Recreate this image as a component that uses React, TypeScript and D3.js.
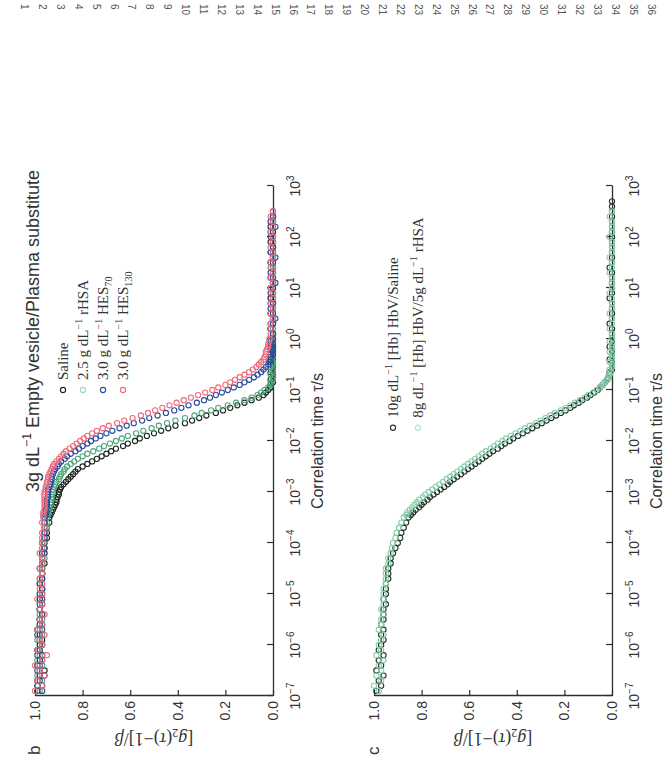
import React, { useEffect, useRef } from "react";
import * as d3 from "d3";

// ---------- data (log10 of correlation time, shared grid) ----------
const LOG_TAU = [
  -6.9, -6.8, -6.7, -6.6, -6.5, -6.4, -6.3, -6.2, -6.1, -6.0,
  -5.9, -5.8, -5.7, -5.6, -5.5, -5.4, -5.3, -5.2, -5.1, -5.0,
  -4.9, -4.8, -4.7, -4.6, -4.5, -4.4, -4.3, -4.2, -4.1, -4.0,
  -3.9, -3.8, -3.7, -3.6,
  -3.5, -3.45, -3.4, -3.35, -3.3, -3.25, -3.2, -3.15, -3.1, -3.05,
  -3.0, -2.95, -2.9, -2.85, -2.8, -2.75, -2.7, -2.65, -2.6, -2.55,
  -2.5, -2.45, -2.4, -2.35, -2.3, -2.25, -2.2, -2.15, -2.1, -2.05,
  -2.0, -1.95, -1.9, -1.85, -1.8, -1.75, -1.7, -1.65, -1.6, -1.55,
  -1.5, -1.45, -1.4, -1.35, -1.3, -1.25, -1.2, -1.15, -1.1, -1.05,
  -1.0, -0.95, -0.9, -0.85, -0.8, -0.75, -0.7, -0.65, -0.6, -0.55,
  -0.5, -0.45, -0.4, -0.35, -0.3, -0.25, -0.2, -0.15, -0.1, -0.05,
  0.0,
  0.1, 0.2, 0.3, 0.4, 0.5, 0.6, 0.7, 0.8, 0.9, 1.0,
  1.1, 1.2, 1.3, 1.4, 1.5, 1.6, 1.7, 1.8, 1.9, 2.0,
  2.1, 2.2, 2.3, 2.4, 2.5, 2.6, 2.7,
];

// Panel b
const B_SALINE = [
  0.99, 0.97, 0.99, 0.98, 0.96, 0.99, 0.98, 0.97, 0.99, 0.98,
  0.97, 0.98, 0.99, 0.97, 0.98, 0.97, 0.98, 0.97, 0.98, 0.97,
  0.97, 0.98, 0.97, 0.97, 0.97, 0.96, 0.97, 0.96, 0.96, 0.96,
  0.95, 0.95, 0.95, 0.94,
  0.94, 0.935, 0.93, 0.925, 0.92, 0.915, 0.91, 0.91, 0.905, 0.9,
  0.9, 0.895, 0.89, 0.88, 0.87, 0.86, 0.85, 0.84, 0.83, 0.82,
  0.8, 0.78, 0.76, 0.74, 0.72, 0.7, 0.68, 0.66, 0.63, 0.61,
  0.58, 0.56, 0.53, 0.5, 0.47, 0.44, 0.41, 0.37, 0.34, 0.31,
  0.28, 0.24, 0.21, 0.18, 0.15, 0.12, 0.09, 0.06, 0.04, 0.03,
  0.02, 0.01, 0.01, 0.0, 0.01, 0.0, 0.0, 0.01, 0.0, 0.0,
  0.0, 0.01, 0.0, 0.0, 0.01, 0.0, 0.0, 0.0, 0.01, 0.0,
  0.0,
  0.0, 0.01, 0.0, 0.0, 0.01, 0.0, 0.0, 0.01, 0.0, 0.0,
  0.0, 0.01, 0.0, 0.0, 0.01, 0.0, 0.0, 0.0, 0.01, 0.0,
  0.0, 0.01, 0.0, 0.0, null, null, null,
];
const B_RHSA = [
  0.98, 0.99, 0.97, 0.99, 0.98, 0.97, 0.99, 0.98, 0.98, 0.97,
  0.99, 0.97, 0.98, 0.98, 0.97, 0.98, 0.98, 0.97, 0.97, 0.98,
  0.97, 0.97, 0.98, 0.97, 0.97, 0.97, 0.96, 0.97, 0.96, 0.96,
  0.96, 0.96, 0.95, 0.95,
  0.95, 0.945, 0.945, 0.94, 0.94, 0.935, 0.935, 0.93, 0.93, 0.93,
  0.925, 0.925, 0.92, 0.915, 0.91, 0.9, 0.895, 0.89, 0.88, 0.875,
  0.865, 0.85, 0.835, 0.82, 0.8, 0.78, 0.755, 0.73, 0.71, 0.685,
  0.66, 0.635, 0.61, 0.575, 0.545, 0.51, 0.48, 0.445, 0.41, 0.37,
  0.33, 0.3, 0.26, 0.23, 0.19, 0.155, 0.12, 0.09, 0.065, 0.05,
  0.035, 0.02, 0.01, 0.01, 0.0, 0.0, 0.01, 0.0, 0.0, 0.01,
  0.0, 0.0, 0.01, 0.0, 0.0, 0.0, 0.01, 0.0, 0.0, 0.0,
  0.01,
  0.0, 0.0, 0.01, 0.0, 0.0, 0.0, 0.01, 0.0, 0.0, 0.01,
  0.0, 0.0, 0.0, 0.01, 0.0, 0.0, 0.01, 0.0, 0.0, 0.0,
  0.01, 0.0, 0.0, 0.0, null, null, null,
];
const B_HES70 = [
  0.97, 0.99, 0.98, 0.96, 0.99, 0.98, 0.97, 0.99, 0.98, 0.97,
  0.98, 0.99, 0.97, 0.98, 0.98, 0.97, 0.98, 0.98, 0.97, 0.98,
  0.97, 0.98, 0.97, 0.97, 0.98, 0.97, 0.97, 0.97, 0.96, 0.97,
  0.96, 0.96, 0.96, 0.96,
  0.96, 0.955, 0.955, 0.955, 0.95, 0.95, 0.95, 0.95, 0.945, 0.945,
  0.945, 0.945, 0.94, 0.935, 0.935, 0.93, 0.93, 0.925, 0.92, 0.915,
  0.905, 0.9, 0.89, 0.875, 0.865, 0.85, 0.83, 0.815, 0.8, 0.78,
  0.765, 0.745, 0.725, 0.7, 0.675, 0.645, 0.615, 0.585, 0.55, 0.52,
  0.485, 0.45, 0.415, 0.385, 0.355, 0.32, 0.29, 0.265, 0.24, 0.215,
  0.19, 0.165, 0.14, 0.12, 0.1, 0.08, 0.065, 0.05, 0.04, 0.03,
  0.02, 0.015, 0.01, 0.01, 0.0, 0.0, 0.01, 0.0, 0.0, 0.01,
  0.0,
  0.0, 0.01, 0.0, -0.01, 0.0, 0.01, 0.0, 0.0, 0.01, 0.0,
  -0.01, 0.0, 0.01, 0.0, 0.0, -0.01, 0.01, 0.0, 0.0, 0.01,
  0.0, -0.01, 0.01, 0.0, 0.0, null, null,
];
const B_HES130 = [
  1.0, 0.97, 0.99, 0.96, 0.98, 1.0, 0.97, 0.95, 0.99, 0.97,
  0.98, 0.96, 0.99, 0.97, 0.98, 0.96, 0.98, 0.97, 0.99, 0.97,
  0.98, 0.97, 0.98, 0.97, 0.98, 0.97, 0.97, 0.98, 0.97, 0.97,
  0.97, 0.97, 0.96, 0.97,
  0.965, 0.965, 0.965, 0.96, 0.96, 0.96, 0.96, 0.96, 0.96, 0.96,
  0.96, 0.955, 0.955, 0.95, 0.95, 0.945, 0.945, 0.94, 0.935, 0.93,
  0.925, 0.92, 0.91, 0.9, 0.89, 0.88, 0.87, 0.855, 0.84, 0.825,
  0.81, 0.795, 0.78, 0.76, 0.74, 0.715, 0.69, 0.655, 0.625, 0.59,
  0.555, 0.525, 0.495, 0.465, 0.435, 0.405, 0.375, 0.345, 0.315, 0.285,
  0.255, 0.23, 0.2, 0.18, 0.16, 0.14, 0.12, 0.1, 0.085, 0.07,
  0.06, 0.05, 0.04, 0.035, 0.03, 0.03, 0.025, 0.02, 0.02, 0.015,
  0.015,
  0.01, 0.01, 0.01, 0.0, 0.01, 0.0, 0.01, 0.0, 0.0, 0.01,
  0.0, 0.01, 0.0, 0.0, 0.01, 0.0, 0.0, 0.01, 0.0, 0.0,
  0.01, 0.0, 0.0, 0.01, 0.0, null, null,
];

// Panel c
const C_HBV_SALINE = [
  0.99, 0.97, 0.98, 0.96, 0.99, 0.97, 0.98, 0.96, 0.98, 0.97,
  0.96, 0.97, 0.96, 0.97, 0.96, 0.96, 0.96, 0.95, 0.96, 0.95,
  0.95, 0.95, 0.94, 0.94, 0.94, 0.93, 0.93, 0.92, 0.91, 0.9,
  0.89, 0.885, 0.875, 0.865,
  0.855, 0.845, 0.835, 0.825, 0.81, 0.8, 0.79, 0.775, 0.765, 0.75,
  0.735, 0.72, 0.705, 0.69, 0.68, 0.665, 0.65, 0.635, 0.62, 0.605,
  0.59, 0.575, 0.56, 0.545, 0.53, 0.515, 0.5, 0.48, 0.465, 0.45,
  0.43, 0.415, 0.395, 0.375, 0.355, 0.335, 0.315, 0.295, 0.275, 0.255,
  0.235, 0.215, 0.195, 0.175, 0.16, 0.14, 0.125, 0.105, 0.09, 0.075,
  0.06, 0.05, 0.04, 0.03, 0.02, 0.015, 0.01, 0.01, 0.0, 0.0,
  0.0, 0.0, 0.01, 0.0, 0.0, 0.0, 0.0, 0.01, 0.0, 0.0,
  0.0,
  0.0, 0.0, 0.01, 0.0, 0.0, 0.0, 0.0, 0.01, 0.0, 0.0,
  0.0, 0.0, 0.0, 0.01, 0.0, 0.0, 0.0, 0.0, 0.0, 0.0,
  0.0, 0.0, 0.0, 0.0, 0.0, 0.0, 0.0,
];
const C_HBV_RHSA = [
  0.98, 1.0, 0.97, 0.99, 0.97, 0.98, 0.96, 0.99, 0.97, 0.98,
  0.97, 0.96, 0.98, 0.97, 0.97, 0.96, 0.97, 0.96, 0.96, 0.96,
  0.96, 0.95, 0.95, 0.95, 0.95, 0.94, 0.94, 0.93, 0.925, 0.92,
  0.91, 0.905, 0.895, 0.885,
  0.875, 0.865, 0.86, 0.85, 0.84, 0.83, 0.82, 0.81, 0.795, 0.785,
  0.77, 0.755, 0.74, 0.725, 0.71, 0.695, 0.68, 0.665, 0.65, 0.635,
  0.62, 0.605, 0.59, 0.575, 0.56, 0.545, 0.53, 0.51, 0.495, 0.48,
  0.46, 0.445, 0.425, 0.405, 0.385, 0.365, 0.345, 0.32, 0.3, 0.28,
  0.26, 0.24, 0.215, 0.195, 0.175, 0.155, 0.135, 0.115, 0.1, 0.08,
  0.065, 0.05, 0.04, 0.03, 0.02, 0.015, 0.01, 0.005, 0.01, 0.0,
  0.0, 0.01, 0.0, 0.0, 0.0, 0.01, 0.0, 0.0, 0.0, 0.01,
  0.0,
  0.0, 0.01, 0.0, 0.0, 0.01, 0.0, 0.0, 0.0, 0.01, 0.0,
  0.0, 0.0, 0.01, 0.0, 0.0, 0.01, 0.0, 0.0, 0.0, 0.01,
  0.0, 0.0, 0.0, 0.01, 0.0, null, null,
];

const DECADES = [-7, -6, -5, -4, -3, -2, -1, 0, 1, 2, 3];
const VALUE_TICKS = [0, 0.2, 0.4, 0.6, 0.8, 1.0];
const LINE_NUMBERS = d3.range(1, 37);

type Part = { t: string; s?: "sup" | "sub" };
const SUP_M1: Part = { t: "\u22121", s: "sup" };

const B_TITLE: Part[] = [{ t: "3g dL" }, SUP_M1, { t: " Empty vesicle/Plasma substitute" }];
const B_LEGEND: Part[][] = [
  [{ t: "Saline" }],
  [{ t: "2.5 g dL" }, SUP_M1, { t: " rHSA" }],
  [{ t: "3.0 g dL" }, SUP_M1, { t: " HES" }, { t: "70", s: "sub" }],
  [{ t: "3.0 g dL" }, SUP_M1, { t: " HES" }, { t: "130", s: "sub" }],
];
const C_LEGEND: Part[][] = [
  [{ t: "10g dL" }, SUP_M1, { t: " [Hb] HbV/Saline" }],
  [{ t: "8g dL" }, SUP_M1, { t: " [Hb] HbV/5g dL" }, SUP_M1, { t: " rHSA" }],
];

// ---------- layout ----------
const BASE_Y = 696;
const T_LEN = 510;
const V_LEN = 238;
const SANS = "'Liberation Sans', Arial, sans-serif";
const SERIF = "'Liberation Serif', 'Times New Roman', serif";

function rich(sel: any, parts: Part[], size: number) {
  let shift = 0;
  parts.forEach((p) => {
    const target = p.s === "sup" ? -size * 0.42 : p.s === "sub" ? size * 0.28 : 0;
    const ts = sel.append("tspan").text(p.t);
    if (target - shift !== 0) ts.attr("dy", target - shift);
    if (p.s) ts.attr("font-size", size * 0.68);
    shift = target;
  });
}

type Series = { values: (number | null)[]; color: string };

function drawPanel(
  svg: any,
  tx: number,
  label: string,
  series: Series[],
  title: Part[] | null,
  legend: Part[][],
  legendColors: string[],
  legendAt: { logt: number; oy0: number; step: number; size: number }
) {
  const x = d3.scaleLog().domain([1e-7, 1e3]).range([0, T_LEN]);
  const y = d3.scaleLinear().domain([0, 1]).range([V_LEN, 0]);
  const g = svg.append("g").attr("transform", `translate(${tx},${BASE_Y}) rotate(-90)`);
  const axisColor = "#2c2f2d";

  // time axis (original bottom)
  const xa = g
    .append("g")
    .attr("transform", `translate(0,${V_LEN})`)
    .call(
      d3
        .axisBottom(x)
        .tickValues(DECADES.map((e) => Math.pow(10, e)))
        .tickSizeInner(-6)
        .tickSizeOuter(0)
        .tickFormat(() => "")
    );
  xa.select(".domain").attr("stroke", axisColor).attr("stroke-width", 1.3);
  xa.selectAll(".tick line").attr("stroke", axisColor).attr("stroke-width", 1.2);
  xa.selectAll(".tick text").remove();
  DECADES.forEach((e) => {
    const t = g
      .append("text")
      .attr("x", x(Math.pow(10, e)))
      .attr("y", V_LEN + 27)
      .attr("text-anchor", "middle")
      .attr("font-family", SANS)
      .attr("font-size", 14)
      .attr("fill", "#333");
    t.append("tspan").text("10");
    t.append("tspan").text(e < 0 ? "\u2212" + Math.abs(e) : String(e)).attr("font-size", 10).attr("dy", -6);
  });
  g.append("text")
    .attr("x", x(1e-2))
    .attr("y", V_LEN + 50)
    .attr("text-anchor", "middle")
    .attr("font-family", SANS)
    .attr("font-size", 16)
    .attr("fill", "#333")
    .text("Correlation time \u03c4/s");

  // value axis (original left)
  const ya = g.append("g").call(
    d3.axisLeft(y).tickValues(VALUE_TICKS).tickSizeInner(-6).tickSizeOuter(0).tickPadding(5).tickFormat(d3.format(".1f"))
  );
  ya.select(".domain").attr("stroke", axisColor).attr("stroke-width", 1.3);
  ya.selectAll(".tick line").attr("stroke", axisColor).attr("stroke-width", 1.2);
  ya.selectAll(".tick text").attr("font-family", SANS).attr("font-size", 14).attr("fill", "#333");

  // y title
  const yt = g
    .append("text")
    .attr("transform", `translate(-37,${V_LEN / 2}) rotate(-90)`)
    .attr("text-anchor", "middle")
    .attr("font-family", SERIF)
    .attr("font-size", 18)
    .attr("fill", "#333");
  yt.append("tspan").text("[");
  yt.append("tspan").text("g").attr("font-style", "italic");
  yt.append("tspan").text("2").attr("font-size", 12).attr("dy", 4);
  yt.append("tspan").text("(").attr("dy", -4);
  yt.append("tspan").text("\u03c4").attr("font-style", "italic");
  yt.append("tspan").text(")\u22121]/");
  yt.append("tspan").text("\u03b2").attr("font-style", "italic");

  // panel label
  g.append("text")
    .attr("x", -59)
    .attr("y", 5)
    .attr("font-family", SANS)
    .attr("font-size", 17)
    .attr("fill", "#333")
    .text(label);

  // title
  if (title) {
    const tt = g
      .append("text")
      .attr("x", x(1e-3))
      .attr("y", 4)
      .attr("font-family", SANS)
      .attr("font-size", 18)
      .attr("fill", "#333");
    rich(tt, title, 18);
  }

  // data
  series.forEach((s) => {
    const pts = LOG_TAU.map((lt, i) => ({ lt, v: s.values[i] })).filter((p) => p.v !== null && p.v !== undefined);
    g.append("g")
      .selectAll("circle")
      .data(pts)
      .join("circle")
      .attr("cx", (p: any) => x(Math.pow(10, p.lt)))
      .attr("cy", (p: any) => y(p.v as number))
      .attr("r", 2.6)
      .attr("fill", "none")
      .attr("stroke", s.color)
      .attr("stroke-width", 1.1);
  });

  // legend
  const lx = x(Math.pow(10, legendAt.logt));
  legend.forEach((parts, i) => {
    const oy = legendAt.oy0 + i * legendAt.step;
    g.append("circle")
      .attr("cx", lx)
      .attr("cy", oy)
      .attr("r", 2.6)
      .attr("fill", "none")
      .attr("stroke", legendColors[i])
      .attr("stroke-width", 1.1);
    const t = g
      .append("text")
      .attr("x", lx + 10)
      .attr("y", oy + 5)
      .attr("font-family", SERIF)
      .attr("font-size", legendAt.size)
      .attr("fill", "#333");
    rich(t, parts, legendAt.size);
  });
}

export default function App() {
  const ref = useRef<SVGSVGElement>(null);
  useEffect(() => {
    const svg = d3.select(ref.current);
    svg.selectAll("*").remove();
    svg.append("rect").attr("width", 668).attr("height", 765).attr("fill", "#fff");

    // margin line numbers
    LINE_NUMBERS.forEach((n) => {
      const cx = 25 + (n - 1) * 17.9;
      svg
        .append("text")
        .attr("transform", `translate(${cx - 4},4) rotate(90)`)
        .attr("font-family", SANS)
        .attr("font-size", 10)
        .attr("fill", "#555")
        .text(String(n));
    });

    const BLACK = "#1c2520";
    const GREEN = "#4fa77a";
    const BLUE = "#2a4c9c";
    const PINK = "#ee6a7c";
    drawPanel(
      svg,
      35,
      "b",
      [
        { values: B_SALINE, color: BLACK },
        { values: B_RHSA, color: GREEN },
        { values: B_HES70, color: BLUE },
        { values: B_HES130, color: PINK },
      ],
      B_TITLE,
      B_LEGEND,
      [BLACK, "#9fd8bb", BLUE, PINK],
      { logt: -1.0, oy0: 28, step: 20, size: 15 }
    );
    drawPanel(
      svg,
      374,
      "c",
      [
        { values: C_HBV_SALINE, color: "#22322a" },
        { values: C_HBV_RHSA, color: "#86cfaa" },
      ],
      null,
      C_LEGEND,
      ["#22322a", "#b5e2cc"],
      { logt: -1.74, oy0: 19, step: 25, size: 15 }
    );
  }, []);
  return (
    <svg
      ref={ref}
      width={668}
      height={765}
      style={{ position: "absolute", left: 0, top: 0, display: "block" }}
    />
  );
}
